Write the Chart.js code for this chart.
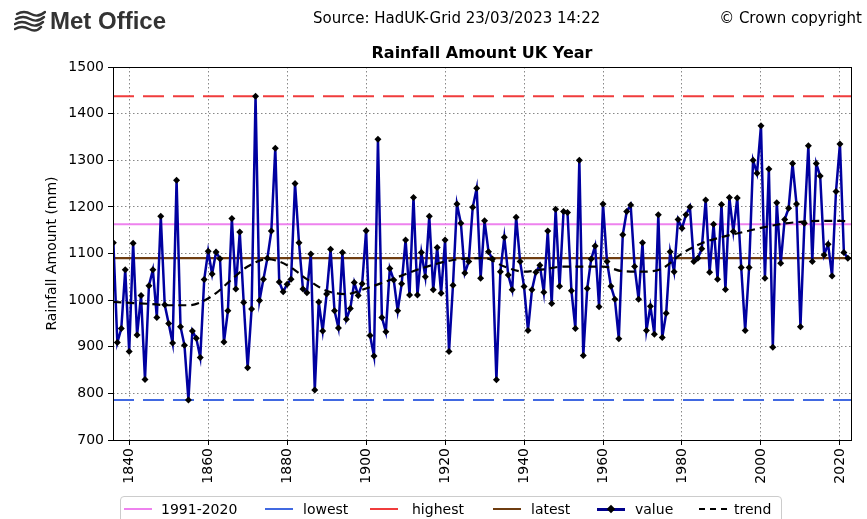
<!DOCTYPE html>
<html>
<head>
<meta charset="utf-8">
<script src="https://cdn.jsdelivr.net/npm/chart.js@4.4.1/dist/chart.umd.min.js"></script>
<style>
  body { margin: 0; background: #fff; }
  #wrap { position: relative; width: 867px; height: 519px; overflow: hidden; font-family: "DejaVu Sans", sans-serif; color: #000; }
  #chart { position: absolute; left: 0; top: 0; }
  .abs { position: absolute; white-space: nowrap; }
  #logo { left: 14px; top: 7px; font-family: "Liberation Sans Narrow", "Liberation Sans", sans-serif; font-weight: bold; font-size: 24px; color: #333; display: flex; align-items: center; }
  #logo svg { margin-right: 4px; }
  #source { left: 313px; top: 9px; font-size: 15px; }
  #copy { right: 5px; top: 9px; font-size: 15px; }
  #title { left: 0; width: 964px; top: 43px; text-align: center; font-size: 16px; font-weight: bold; }
  #legend { left: 120px; top: 496px; width: 660px; height: 34px; border: 1px solid #ccc; border-radius: 4px; }
  .item { position: absolute; top: 3px; font-size: 14px; line-height: 18px; }
  .swatch { position: absolute; top: 11px; width: 28px; height: 0; }
</style>
</head>
<body>
<div id="wrap">
  <canvas id="chart" width="867" height="519"></canvas>
  <div id="logo" class="abs">
    <svg width="32" height="22" viewBox="0 0 32 22">
      <g fill="none" stroke="#333" stroke-width="2.4" stroke-linecap="round">
        <path d="M3 4 q7 -4 14 0 t14 -2"/>
        <path d="M2 9 q7 -4 14 0 t14 -2"/>
        <path d="M1 14 q7 -4 14 0 t14 -2"/>
        <path d="M1 19 q7 -4 14 0 t12 -2"/>
      </g>
    </svg>Met Office
  </div>
  <div id="source" class="abs">Source: HadUK-Grid 23/03/2023 14:22</div>
  <div id="copy" class="abs">© Crown copyright</div>
  <div id="title" class="abs">Rainfall Amount UK Year</div>
  <div id="legend" class="abs"></div>
</div>
<script>
// annual UK rainfall (mm), 1836 to 2022
var firstYear = 1836;
var rainfall = [
  1123, 909, 939, 1065, 890, 1122, 925, 1010, 830, 1031,
  1065, 963, 1180, 990, 950, 908, 1257, 943, 903, 786,
  934, 918, 877, 1044, 1105, 1056, 1103, 1089, 910, 977,
  1175, 1024, 1146, 995, 855, 981, 1437, 999, 1045, 1090,
  1148, 1326, 1039, 1018, 1034, 1045, 1250, 1123, 1024, 1016,
  1099, 807, 996, 934, 1013, 1109, 977, 940, 1102, 959,
  982, 1038, 1010, 1035, 1149, 924, 880, 1345, 963, 932,
  1068, 1043, 977, 1035, 1129, 1011, 1220, 1011, 1102, 1050,
  1180, 1022, 1113, 1015, 1129, 890, 1032, 1206, 1165, 1058,
  1083, 1199, 1240, 1047, 1170, 1104, 1088, 829, 1061, 1135,
  1054, 1022, 1178, 1083, 1029, 935, 1022, 1060, 1075, 1017,
  1148, 993, 1195, 1030, 1190, 1188, 1020, 939, 1300, 881,
  1025, 1088, 1116, 986, 1206, 1083, 1030, 1002, 917, 1140,
  1190, 1204, 1072, 1002, 1123, 935, 987, 927, 1183, 920,
  972, 1104, 1061, 1173, 1154, 1183, 1200, 1083, 1090, 1110,
  1215, 1060, 1163, 1045, 1205, 1023, 1220, 1147, 1219, 1070,
  935, 1070, 1300, 1272, 1374, 1047, 1281, 899, 1209, 1079,
  1173, 1197, 1293, 1206, 943, 1165, 1331, 1083, 1293, 1266,
  1097, 1120, 1052, 1233, 1335, 1102, 1090
];

// smoothed trend, read at a few years
var trendYears = [1836, 1845, 1850, 1855, 1858, 1862, 1866, 1870, 1875, 1880, 1885, 1890, 1895, 1900, 1906, 1914, 1922, 1930, 1935, 1940, 1945, 1950, 1960, 1965, 1970, 1975, 1980, 1985, 1990, 1995, 2000, 2005, 2010, 2015, 2020, 2022];
var trendValues = [996, 992, 989, 989, 995, 1015, 1045, 1072, 1088, 1075, 1045, 1020, 1013, 1025, 1043, 1068, 1086, 1090, 1072, 1061, 1066, 1072, 1072, 1062, 1061, 1068, 1100, 1122, 1135, 1145, 1155, 1163, 1168, 1170, 1170, 1169];

var average9120 = 1163;
var lowestValue = 786;
var highestValue = 1437;
var latestValue = 1090;

var xTicks = [1840, 1860, 1880, 1900, 1920, 1940, 1960, 1980, 2000, 2020];
var yTicks = [700, 800, 900, 1000, 1100, 1200, 1300, 1400, 1500];

var xMin = 1835.9, xMax = 2022.8;

var valuePoints = rainfall.map(function(v, i) { return {x: firstYear + i, y: v}; });
var trendPoints = trendYears.map(function(yr, i) { return {x: yr, y: trendValues[i]}; });
function flat(v) { return [{x: xMin, y: v}, {x: xMax, y: v}]; }

Chart.defaults.font.family = "DejaVu Sans";
Chart.defaults.font.size = 14;
Chart.defaults.color = "#000";

// box round the plot area
var frame = {
  id: 'frame',
  afterDatasetsDraw: function(chart) {
    var a = chart.chartArea, c = chart.ctx;
    c.save();
    c.strokeStyle = '#000';
    c.lineWidth = 1;
    c.strokeRect(Math.round(a.left) + 0.5, Math.round(a.top) + 0.5, Math.round(a.right - a.left), Math.round(a.bottom - a.top));
    c.restore();
  }
};

var legendItems = [
  {label: '1991-2020', color: '#ee82ee', dash: false, x: 124, tx: 161},
  {label: 'lowest', color: '#4169e1', dash: false, x: 265, tx: 303},
  {label: 'highest', color: '#f03c3c', dash: false, x: 370, tx: 412},
  {label: 'latest', color: '#6e3c10', dash: false, x: 493, tx: 531},
  {label: 'value', color: '#00008b', dash: false, x: 597, tx: 635, marker: true},
  {label: 'trend', color: '#000', dash: true, x: 699, tx: 734}
];
var legendDiv = document.getElementById('legend');
legendItems.forEach(function(it) {
  var s = document.createElement('div');
  s.className = 'swatch abs';
  s.style.left = (it.x - 121) + 'px';
  s.style.borderTop = (it.marker ? '3px ' : '2px ') + (it.dash ? 'dashed ' : 'solid ') + it.color;
  if (it.marker) {
    var m = document.createElement('div');
    m.style.cssText = 'position:absolute;left:11px;top:-5px;width:6px;height:6px;background:#000;transform:rotate(45deg);';
    s.appendChild(m);
  }
  legendDiv.appendChild(s);
  var t = document.createElement('div');
  t.className = 'item';
  t.style.left = (it.tx - 121) + 'px';
  t.textContent = it.label;
  legendDiv.appendChild(t);
});

var ctx = document.getElementById('chart').getContext('2d');
var rainChart = new Chart(ctx, {
  type: 'line',
  data: {
    datasets: [
      {label: '1991-2020', data: flat(average9120), borderColor: '#ee82ee', borderWidth: 2, pointRadius: 0, order: 6},
      {label: 'lowest', data: flat(lowestValue), borderColor: '#4169e1', borderWidth: 2, borderDash: [21, 9], pointRadius: 0, order: 5},
      {label: 'highest', data: flat(highestValue), borderColor: '#f03c3c', borderWidth: 2, borderDash: [21, 9], pointRadius: 0, order: 4},
      {label: 'latest', data: flat(latestValue), borderColor: '#6e3c10', borderWidth: 2.2, pointRadius: 0, order: 3},
      {label: 'value', data: valuePoints, borderColor: '#0000a0', borderWidth: 2.5, pointStyle: 'rectRot', pointRadius: 3.5, pointBackgroundColor: '#000', pointBorderWidth: 0, tension: 0, order: 2},
      {label: 'trend', data: trendPoints, borderColor: '#000', borderWidth: 2.2, borderDash: [8, 5], pointRadius: 0, cubicInterpolationMode: 'monotone', order: 1}
    ]
  },
  plugins: [frame],
  options: {
    responsive: false,
    animation: false,
    layout: {padding: {left: 0, top: 67, right: 16, bottom: 0}},
    plugins: {legend: {display: false}, tooltip: {enabled: false}},
    scales: {
      x: {
        type: 'linear',
        min: xMin,
        max: xMax,
        afterBuildTicks: function(s) { s.ticks = xTicks.map(function(v) { return {value: v}; }); },
        afterFit: function(s) { s.height = 79; },
        ticks: {minRotation: 90, maxRotation: 90, padding: 3, callback: function(v) { return String(v); }},
        grid: {color: '#888', lineWidth: 1, tickLength: 5, tickColor: '#000'},
        border: {display: false, dash: [1.5, 2.5]}
      },
      y: {
        min: 700,
        max: 1500,
        afterBuildTicks: function(s) { s.ticks = yTicks.map(function(v) { return {value: v}; }); },
        afterFit: function(s) { s.width = 113; },
        ticks: {padding: 4, callback: function(v) { return String(v); }},
        title: {display: true, text: 'Rainfall Amount (mm)', font: {size: 14}, padding: {top: 44, bottom: 0}},
        grid: {color: '#888', lineWidth: 1, tickLength: 5, tickColor: '#000'},
        border: {display: false, dash: [1.5, 2.5]}
      }
    }
  }
});
</script>
</body>
</html>
